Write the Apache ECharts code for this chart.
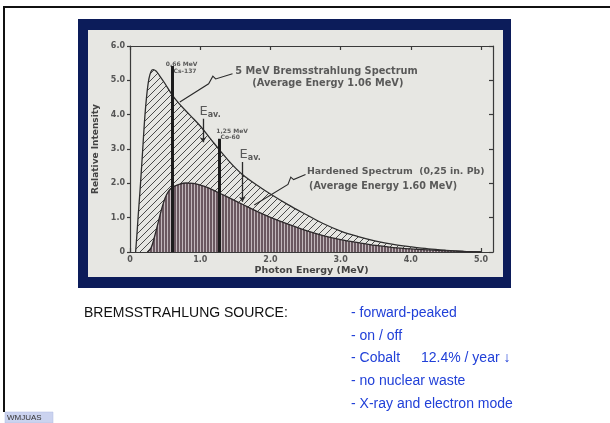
<!DOCTYPE html>
<html>
<head>
<meta charset="utf-8">
<script src="https://cdn.jsdelivr.net/npm/echarts@6/dist/echarts.min.js"></script>
<style>
html,body{margin:0;padding:0;background:#ffffff;}
#c{width:610px;height:423px;}
</style>
</head>
<body>
<div id="c"></div>
<script>
// ---------- data ----------
const xTickValues = [0, 1, 2, 3, 4, 5];
const yTickValues = [0, 1, 2, 3, 4, 5, 6];

// 5 MeV bremsstrahlung spectrum (upper curve)
const bremsEnergy    = [0.08, 0.10, 0.12, 0.15, 0.18, 0.21, 0.24, 0.27, 0.30, 0.33, 0.37, 0.42, 0.50, 0.60, 0.70, 0.80, 0.90, 1.00, 1.10, 1.20, 1.30, 1.40, 1.50, 1.60, 1.80, 2.00, 2.25, 2.50, 2.75, 3.00, 3.25, 3.50, 3.75, 4.00, 4.25, 4.50, 4.75, 5.00];
const bremsIntensity = [0.00, 0.55, 1.15, 2.00, 2.95, 3.90, 4.60, 5.05, 5.26, 5.31, 5.27, 5.14, 4.90, 4.58, 4.32, 4.10, 3.89, 3.67, 3.42, 3.16, 2.91, 2.67, 2.45, 2.26, 1.96, 1.69, 1.38, 1.10, 0.83, 0.61, 0.45, 0.32, 0.22, 0.15, 0.09, 0.05, 0.02, 0.00];

// hardened spectrum, 0.25 in. Pb (lower curve)
const hardEnergy    = [0.25, 0.30, 0.35, 0.40, 0.45, 0.50, 0.55, 0.60, 0.70, 0.80, 0.90, 1.00, 1.10, 1.20, 1.30, 1.40, 1.50, 1.60, 1.80, 2.00, 2.25, 2.50, 2.75, 3.00, 3.25, 3.50, 3.75, 4.00, 4.25, 4.50, 4.75, 5.00];
const hardIntensity = [0.00, 0.12, 0.45, 0.85, 1.25, 1.57, 1.77, 1.88, 1.97, 2.01, 2.00, 1.95, 1.88, 1.79, 1.69, 1.59, 1.49, 1.39, 1.19, 1.01, 0.81, 0.63, 0.48, 0.36, 0.27, 0.19, 0.13, 0.09, 0.06, 0.035, 0.015, 0.00];

// gamma source lines
const sourceEnergyLabels = ['0,66 MeV', '1,25 MeV'];
const sourceIsotopes     = ['Cs-137', 'Co-60'];
const sourceEnergy       = [0.60, 1.27];
const sourceTop          = [5.42, 3.30];

// average-energy arrows
const avgArrowEnergy = [1.04, 1.60];
const avgArrowFrom   = [3.88, 2.62];
const avgArrowTo     = [3.20, 1.46];

// slide text
const slideHeading = 'BREMSSTRAHLUNG SOURCE:';
const bulletItems  = ['- forward-peaked', '- on / off', '- Cobalt', '- no nuclear waste', '- X-ray and electron mode'];
const cobaltNote   = '12.4% / year \u2193';
const footerTag    = 'WMJUAS';

// ---------- patterns ----------
function hatchPattern() {
  const n = 7;
  const c = document.createElement('canvas');
  c.width = n; c.height = n;
  const g = c.getContext('2d');
  g.fillStyle = '#e6e6e2'; g.fillRect(0, 0, n, n);
  g.strokeStyle = '#4a4a4a'; g.lineWidth = 1.0;
  g.beginPath();
  g.moveTo(-1, n + 1); g.lineTo(n + 1, -1);
  g.moveTo(-1, 1); g.lineTo(1, -1);
  g.moveTo(n - 1, n + 1); g.lineTo(n + 1, n - 1);
  g.stroke();
  return c;
}
function stripePattern() {
  const c = document.createElement('canvas');
  c.width = 3; c.height = 4;
  const g = c.getContext('2d');
  g.fillStyle = '#c2b8bc'; g.fillRect(0, 0, 3, 4);
  g.fillStyle = '#6a5860'; g.fillRect(0, 0, 2, 4);
  return c;
}

const zip = (xs, ys) => xs.map((x, i) => [x, ys[i]]);
const fmt = v => (v === 0 ? '0' : v.toFixed(1));

const inkFont = 'DejaVu Sans';
const ink = '#363636';

function annot(x, y, text, size, weight) {
  return {
    value: [x, y],
    label: { show: true, formatter: text, fontSize: size, fontWeight: weight || 'bold', fontFamily: inkFont, color: ink }
  };
}
function avgLabel(x, y) {
  return {
    value: [x, y],
    label: { show: true, formatter: '{e|E}{s|av.}', rich: {
      e: { fontSize: 13, fontFamily: inkFont, color: ink },
      s: { fontSize: 8, fontFamily: inkFont, fontWeight: 'bold', color: ink, padding: [7, 0, 0, 0] } } }
  };
}

const chart = echarts.init(document.getElementById('c'), null, { renderer: 'canvas' });

const axisLineStyle = { color: '#3a3a3a', width: 1.2 };

const option = {
  backgroundColor: '#ffffff',
  animation: false,
  grid: { left: 130, top: 46, width: 363, height: 206, containLabel: false },
  xAxis: [
    {
      type: 'value', min: 0, max: 5.17, interval: 1, position: 'bottom',
      axisLine: { show: true, onZero: false, lineStyle: axisLineStyle },
      axisTick: { show: true, inside: true, length: 4, lineStyle: axisLineStyle, customValues: xTickValues },
      axisLabel: { formatter: fmt, fontSize: 8, color: '#555', margin: 4, fontFamily: inkFont, fontWeight: 'bold',
        customValues: xTickValues },
      splitLine: { show: false },
      name: 'Photon Energy (MeV)', nameLocation: 'middle', nameGap: 14,
      nameTextStyle: { fontSize: 9.5, fontWeight: 'bold', color: '#444', fontFamily: inkFont }
    },
    {
      type: 'value', min: 0, max: 5.17, interval: 1, position: 'top',
      axisLine: { show: true, onZero: false, lineStyle: axisLineStyle },
      axisTick: { show: true, inside: true, length: 4, lineStyle: axisLineStyle, customValues: xTickValues },
      axisLabel: { show: false }, splitLine: { show: false }
    }
  ],
  yAxis: [
    {
      type: 'value', min: 0, max: 6, interval: 1, position: 'left',
      axisLine: { show: true, onZero: false, lineStyle: axisLineStyle },
      axisTick: { show: true, inside: false, length: 3, lineStyle: axisLineStyle },
      axisLabel: { formatter: fmt, fontSize: 8, color: '#555', margin: 5, fontFamily: inkFont, fontWeight: 'bold',
        customValues: yTickValues },
      splitLine: { show: false },
      name: 'Relative Intensity', nameLocation: 'middle', nameGap: 22, nameRotate: 90,
      nameTextStyle: { fontSize: 9, fontWeight: 'bold', color: '#444', fontFamily: inkFont }
    },
    {
      type: 'value', min: 0, max: 6, interval: 1, position: 'right',
      axisLine: { show: true, onZero: false, lineStyle: axisLineStyle },
      axisTick: { show: true, inside: true, length: 4, lineStyle: axisLineStyle },
      axisLabel: { show: false }, splitLine: { show: false }
    }
  ],
  graphic: [
    // slide frame lines
    { type: 'rect', z: -10, shape: { x: 3, y: 6, width: 607, height: 2 }, style: { fill: '#111' } },
    { type: 'rect', z: -10, shape: { x: 3, y: 6, width: 2, height: 406 }, style: { fill: '#111' } },
    // navy photo frame and pale paper
    { type: 'rect', z: -10, shape: { x: 78, y: 19, width: 433, height: 269 }, style: { fill: '#0c1c5a' } },
    { type: 'rect', z: -9, shape: { x: 88, y: 30, width: 415, height: 247 }, style: { fill: '#e7e7e3' } },
    // slide text
    { type: 'text', z: 50, x: 84, y: 313, style: { text: slideHeading, font: '14px "Liberation Sans", Arial, sans-serif', fill: '#111', verticalAlign: 'middle' } },
    ...bulletItems.map((t, i) => ({
      type: 'text', z: 50, x: 351, y: 313 + i * 22.8,
      style: { text: t, font: '14px "Liberation Sans", Arial, sans-serif', fill: '#2140d8', verticalAlign: 'middle' }
    })),
    { type: 'text', z: 50, x: 421, y: 313 + 2 * 22.8, style: { text: cobaltNote, font: '14px "Liberation Sans", Arial, "DejaVu Sans", sans-serif', fill: '#2140d8', verticalAlign: 'middle' } },
    // footer tag
    { type: 'rect', z: 40, shape: { x: 5, y: 412, width: 48, height: 11 }, style: { fill: '#cbd3ef', stroke: '#aeb8e0', lineWidth: 0.5 } },
    { type: 'text', z: 50, x: 7, y: 418, style: { text: footerTag, font: '8px "Liberation Sans", Arial, sans-serif', fill: '#333', verticalAlign: 'middle' } }
  ],
  series: [
    {
      name: '5 MeV Bremsstrahlung Spectrum', type: 'line', z: 2,
      data: zip(bremsEnergy, bremsIntensity), smooth: 0.35, symbol: 'none',
      lineStyle: { color: '#2e2e2e', width: 1.3 },
      areaStyle: { color: { image: hatchPattern(), repeat: 'repeat' }, opacity: 1, origin: 'start' }
    },
    {
      name: 'Hardened Spectrum', type: 'line', z: 3,
      data: zip(hardEnergy, hardIntensity), smooth: 0.35, symbol: 'none',
      lineStyle: { color: '#2e2a2c', width: 1.3 },
      areaStyle: { color: { image: stripePattern(), repeat: 'repeat' }, opacity: 1, origin: 'start' }
    },
    {
      name: 'Source lines', type: 'lines', coordinateSystem: 'cartesian2d', z: 5,
      data: sourceEnergy.map((e, i) => ({ coords: [[e, 0], [e, sourceTop[i]]] })),
      lineStyle: { color: '#1c1c1c', width: 3, opacity: 1 }
    },
    {
      name: 'Average energy', type: 'lines', coordinateSystem: 'cartesian2d', z: 5,
      data: avgArrowEnergy.map((e, i) => ({ coords: [[e, avgArrowFrom[i]], [e, avgArrowTo[i]]] })),
      symbol: ['none', 'arrow'], symbolSize: 5,
      lineStyle: { color: '#2a2a2a', width: 1.3, opacity: 1 }
    },
    {
      name: 'Leaders', type: 'lines', coordinateSystem: 'cartesian2d', polyline: true, z: 5,
      data: [
        { coords: [[1.46, 5.19], [1.22, 5.04], [1.18, 5.12], [1.12, 4.90], [0.71, 4.37]] },
        { coords: [[2.50, 2.26], [2.33, 2.11], [2.29, 2.18], [2.25, 1.97], [1.77, 1.37]] }
      ],
      symbol: ['none', 'arrow'], symbolSize: 5,
      lineStyle: { color: '#2a2a2a', width: 1.1, opacity: 1 }
    },
    {
      name: 'Annotations', type: 'scatter', z: 6, symbolSize: 0,
      label: { show: true, position: 'right', distance: 0, align: 'left', verticalAlign: 'middle' },
      data: [
        annot(1.50, 5.27, '5 MeV Bremsstrahlung Spectrum', 9.8),
        annot(1.74, 4.91, '(Average Energy 1.06 MeV)', 9.8),
        annot(2.52, 2.33, 'Hardened Spectrum  (0,25 in. Pb)', 9.4),
        annot(2.55, 1.92, '(Average Energy 1.60 MeV)', 9.6),
        annot(0.51, 5.47, sourceEnergyLabels[0], 6),
        annot(0.62, 5.25, sourceIsotopes[0], 6),
        annot(1.23, 3.52, sourceEnergyLabels[1], 6),
        annot(1.29, 3.33, sourceIsotopes[1], 6),
        avgLabel(0.99, 4.10),
        avgLabel(1.56, 2.84)
      ]
    }
  ]
};
chart.setOption(option);
</script>
</body>
</html>
